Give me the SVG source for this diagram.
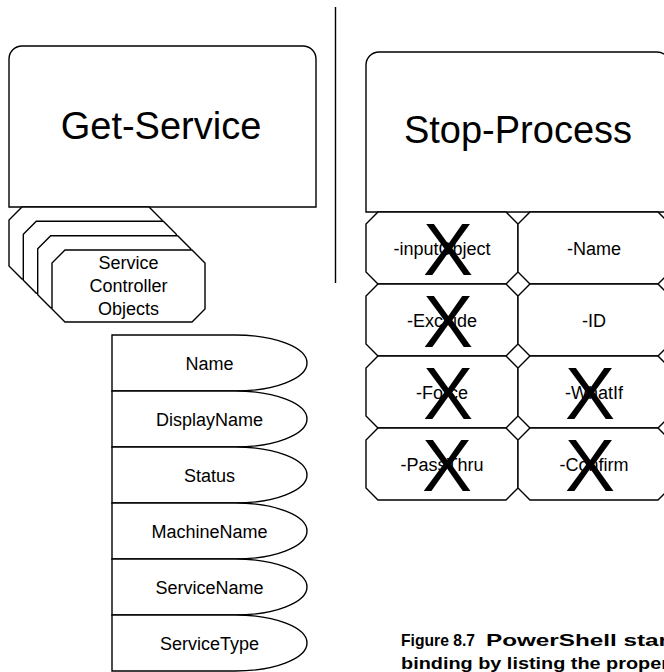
<svg xmlns="http://www.w3.org/2000/svg" width="664" height="672" viewBox="0 0 664 672">
<style>
  .shape { fill: #ffffff; stroke: #000000; stroke-width: 1.4; stroke-linejoin: miter; }
  .line { fill: none; stroke: #000000; stroke-width: 1.4; }
  text { font-family: "Liberation Sans", Arial, Helvetica, sans-serif; fill: #000000; text-anchor: middle; }
  .title { font-size: 38px; }
  .lbl { font-size: 18px; }
  .x { font-size: 75px; }
  .cap { font-size: 17px; font-weight: bold; text-anchor: start; }
</style>
<defs>
  <path id="oct" d="M13,0 H140 L153,13 V59 L140,72 H13 L0,59 V13 Z"/>
  <path id="cell" d="M12,0 H140 L152,12 V60 L140,72 H12 L0,60 V12 Z"/>
  <path id="oval" d="M0,0 H123 A72,28 0 0 1 123,56 H0 Z"/>
</defs>
<rect width="664" height="672" fill="#ffffff"/>

<g id="connectors">
  <line class="line" x1="335.5" y1="7" x2="335.5" y2="283"/>
</g>

<g id="get-service">
  <path class="shape" d="M9,207 V59 A13,13 0 0 1 22,46 H303 A13,13 0 0 1 316,59 V207 Z"/>
  <text class="title" x="161" y="139">Get-Service</text>
</g>

<g id="service-controller-objects">
  <use href="#oct" class="shape" x="9" y="207"/>
  <use href="#oct" class="shape" x="23.3" y="221.3"/>
  <use href="#oct" class="shape" x="37.7" y="235.7"/>
  <use href="#oct" class="shape" x="52" y="250"/>
  <text class="lbl" x="128.5" y="269">Service</text>
  <text class="lbl" x="128.5" y="292">Controller</text>
  <text class="lbl" x="128.5" y="315">Objects</text>
</g>

<g id="prop-name">
  <use href="#oval" class="shape" x="112" y="335"/>
  <text class="lbl" x="209.5" y="369.5">Name</text>
</g>
<g id="prop-displayname">
  <use href="#oval" class="shape" x="112" y="391"/>
  <text class="lbl" x="209.5" y="425.5">DisplayName</text>
</g>
<g id="prop-status">
  <use href="#oval" class="shape" x="112" y="447"/>
  <text class="lbl" x="209.5" y="481.5">Status</text>
</g>
<g id="prop-machinename">
  <use href="#oval" class="shape" x="112" y="503"/>
  <text class="lbl" x="209.5" y="537.5">MachineName</text>
</g>
<g id="prop-servicename">
  <use href="#oval" class="shape" x="112" y="559"/>
  <text class="lbl" x="209.5" y="593.5">ServiceName</text>
</g>
<g id="prop-servicetype">
  <use href="#oval" class="shape" x="112" y="615"/>
  <text class="lbl" x="209.5" y="649.5">ServiceType</text>
</g>

<g id="stop-process">
  <path class="shape" d="M366,212 V65 A13,13 0 0 1 379,52 H657 A13,13 0 0 1 670,65 V212 Z"/>
  <text class="title" x="518" y="143">Stop-Process</text>
</g>

<g id="param-inputobject">
  <use href="#cell" class="shape" x="366" y="212"/>
  <text class="lbl" x="442" y="254.5">-inputObject</text>
  <text class="x" x="448" y="275">X</text>
</g>
<g id="param-name">
  <use href="#cell" class="shape" x="518" y="212"/>
  <text class="lbl" x="594" y="254.5">-Name</text>
</g>
<g id="param-exclude">
  <use href="#cell" class="shape" x="366" y="284"/>
  <text class="lbl" x="442" y="326.5">-Exclude</text>
  <text class="x" x="448" y="347">X</text>
</g>
<g id="param-id">
  <use href="#cell" class="shape" x="518" y="284"/>
  <text class="lbl" x="594" y="326.5">-ID</text>
</g>
<g id="param-force">
  <use href="#cell" class="shape" x="366" y="356"/>
  <text class="lbl" x="442" y="398.5">-Force</text>
  <text class="x" x="448" y="419">X</text>
</g>
<g id="param-whatif">
  <use href="#cell" class="shape" x="518" y="356"/>
  <text class="lbl" x="594" y="398.5">-WhatIf</text>
  <text class="x" x="590" y="419">X</text>
</g>
<g id="param-passthru">
  <use href="#cell" class="shape" x="366" y="428"/>
  <text class="lbl" x="442" y="470.5">-PassThru</text>
  <text class="x" x="447" y="491">X</text>
</g>
<g id="param-confirm">
  <use href="#cell" class="shape" x="518" y="428"/>
  <text class="lbl" x="594" y="470.5">-Confirm</text>
  <text class="x" x="590" y="491">X</text>
</g>

<g id="caption">
  <text class="cap" x="401" y="646" textLength="74" lengthAdjust="spacingAndGlyphs">Figure 8.7</text>
  <text class="cap" x="486" y="646" textLength="182" lengthAdjust="spacingAndGlyphs">PowerShell star</text>
  <text class="cap" x="401" y="669" textLength="268" lengthAdjust="spacingAndGlyphs">binding by listing the proper</text>
</g>
</svg>
